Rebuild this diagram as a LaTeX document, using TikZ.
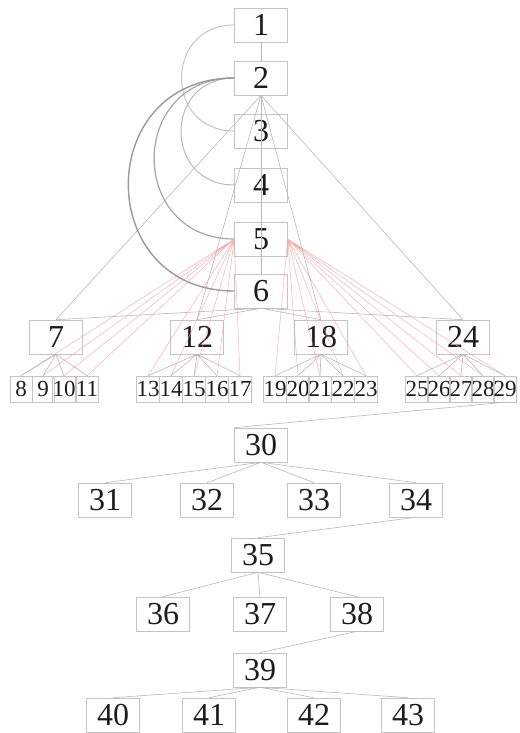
\documentclass[tikz,border=0pt]{standalone}
\usepackage{fontspec}
\setmainfont{Liberation Serif}
\definecolor{ink}{HTML}{1C1C1C}
\definecolor{frame}{HTML}{C4C4C4}
\definecolor{wire}{HTML}{B8B8B8}
\definecolor{hint}{HTML}{F0A0A0}
\begin{document}
\begin{tikzpicture}[
  x=1pt, y=-1pt,
  text=ink,
  box/.style={draw=frame, line width=.6pt, inner sep=0pt,
    minimum width=53pt, minimum height=34pt, font=\fontsize{32}{32}\selectfont},
  leaf/.style={draw=frame, line width=.5pt, inner sep=0pt,
    minimum width=22pt, minimum height=26pt, font=\fontsize{23}{23}\selectfont},
  link/.style={draw=wire, line width=.6pt},
  glow/.style={draw=hint, line width=.5pt, opacity=.8},
  bow/.style={line width=1pt, out=180, in=180, looseness=1.7}
]
  \useasboundingbox (0,0) rectangle (519,733);
  \node[box] (n1) at (261,25) {1};
  \node[box] (n2) at (261,78) {2};
  \node[box] (n3) at (261,131) {3};
  \node[box] (n4) at (261,185) {4};
  \node[box] (n5) at (261,239) {5};
  \node[box] (n6) at (261,291) {6};
  \node[box] (n7) at (56,337) {7};
  \node[box] (n12) at (197,337) {12};
  \node[box] (n18) at (321,337) {18};
  \node[box] (n24) at (463,337) {24};
  \node[leaf] (n8) at (21,389) {8};
  \node[leaf] (n9) at (43,389) {9};
  \node[leaf] (n10) at (64,389) {10};
  \node[leaf] (n11) at (87,389) {11};
  \node[leaf] (n13) at (148,389) {13};
  \node[leaf] (n14) at (171,389) {14};
  \node[leaf] (n15) at (194,389) {15};
  \node[leaf] (n16) at (217,389) {16};
  \node[leaf] (n17) at (240,389) {17};
  \node[leaf] (n19) at (275,389) {19};
  \node[leaf] (n20) at (298,389) {20};
  \node[leaf] (n21) at (320,389) {21};
  \node[leaf] (n22) at (343,389) {22};
  \node[leaf] (n23) at (366,389) {23};
  \node[leaf] (n25) at (417,389) {25};
  \node[leaf] (n26) at (439,389) {26};
  \node[leaf] (n27) at (461,389) {27};
  \node[leaf] (n28) at (483,389) {28};
  \node[leaf] (n29) at (505,389) {29};
  \node[box] (n30) at (261,445) {30};
  \node[box] (n31) at (105,500) {31};
  \node[box] (n32) at (207,500) {32};
  \node[box] (n33) at (314,500) {33};
  \node[box] (n34) at (416,500) {34};
  \node[box] (n35) at (258,555) {35};
  \node[box] (n36) at (163,614) {36};
  \node[box] (n37) at (260,614) {37};
  \node[box] (n38) at (357,614) {38};
  \node[box] (n39) at (260,670) {39};
  \node[box] (n40) at (113,715) {40};
  \node[box] (n41) at (209,715) {41};
  \node[box] (n42) at (314,715) {42};
  \node[box] (n43) at (408,715) {43};
  \draw[glow] (n5.west) -- (n8.north) (n5.west) -- (n9.north)
    (n5.west) -- (n10.north) (n5.west) -- (n11.north)
    (n5.west) -- (n13.north) (n5.west) -- (n14.north)
    (n5.west) -- (n15.north) (n5.west) -- (n16.north)
    (n5.west) -- (n17.north);
  \draw[glow] (n5.east) -- (n19.north) (n5.east) -- (n20.north)
    (n5.east) -- (n21.north) (n5.east) -- (n22.north)
    (n5.east) -- (n23.north) (n5.east) -- (n25.north)
    (n5.east) -- (n26.north) (n5.east) -- (n27.north)
    (n5.east) -- (n28.north) (n5.east) -- (n29.north);
  \draw[link] (n1.south) -- (n2.north);
  \draw[link] (n2.south) -- (n3.north) (n2.south) -- (n4.north)
    (n2.south) -- (n5.north) (n2.south) -- (n6.north);
  \draw[link] (n2.south) -- (n7.north) (n2.south) -- (n12.north)
    (n2.south) -- (n18.north) (n2.south) -- (n24.north);
  \draw[link] (n6.south) -- (n7.north) (n6.south) -- (n12.north)
    (n6.south) -- (n18.north) (n6.south) -- (n24.north);
  \draw[link] (n7.south) -- (n8.north) (n7.south) -- (n9.north)
    (n7.south) -- (n10.north) (n7.south) -- (n11.north);
  \draw[link] (n12.south) -- (n13.north) (n12.south) -- (n14.north)
    (n12.south) -- (n15.north) (n12.south) -- (n16.north)
    (n12.south) -- (n17.north);
  \draw[link] (n18.south) -- (n19.north) (n18.south) -- (n20.north)
    (n18.south) -- (n21.north) (n18.south) -- (n22.north)
    (n18.south) -- (n23.north);
  \draw[link] (n24.south) -- (n25.north) (n24.south) -- (n26.north)
    (n24.south) -- (n27.north) (n24.south) -- (n28.north)
    (n24.south) -- (n29.north);
  \draw[link] (n29.south) -- (n30.north west);
  \draw[link] (n30.south) -- (n31.north) (n30.south) -- (n32.north)
    (n30.south) -- (n33.north) (n30.south) -- (n34.north);
  \draw[link] (n34.south) -- (n35.north);
  \draw[link] (n35.south) -- (n36.north) (n35.south) -- (n37.north)
    (n35.south) -- (n38.north);
  \draw[link] (n38.south) -- (n39.north);
  \draw[link] (n39.south) -- (n40.north) (n39.south) -- (n41.north)
    (n39.south) -- (n42.north) (n39.south) -- (n43.north);
  \draw[bow, draw=gray!45] (n1.west) to (n3.west);
  \draw[bow, draw=gray!55] (n2.west) to (n4.west);
  \draw[bow, draw=gray!70, line width=1.2pt] (n2.west) to (n5.west);
  \draw[bow, draw=gray!80, line width=1.4pt] (n2.west) to (n6.west);
\end{tikzpicture}
\end{document}
